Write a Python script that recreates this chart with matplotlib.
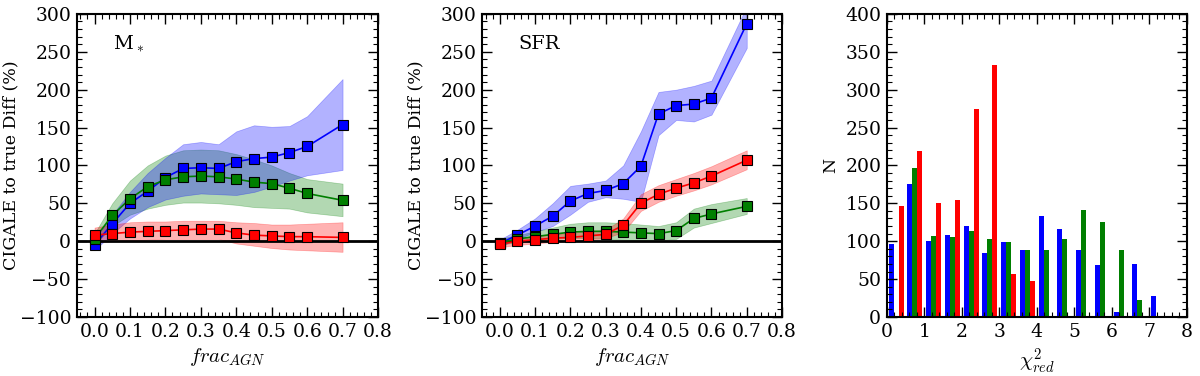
import numpy as np
import matplotlib
matplotlib.use("Agg")
import matplotlib.pyplot as plt
from matplotlib.ticker import MultipleLocator

plt.rcParams['font.family'] = ['DejaVu Serif']
plt.rcParams['mathtext.fontset'] = 'cm'

# ---------------- data ----------------
frac_agn = [0.0, 0.05, 0.1, 0.15, 0.2, 0.25, 0.3, 0.35, 0.4, 0.45, 0.5, 0.55, 0.6, 0.7]

# M* panel
mstar_blue = [-5, 23, 50, 66, 84, 96, 97, 96, 105, 109, 111, 117, 125, 154]
mstar_blue_lo = [-12, 10, 30, 45, 55, 60, 63, 62, 61, 65, 72, 80, 87, 94]
mstar_blue_hi = [2, 35, 65, 90, 110, 128, 131, 128, 145, 153, 151, 152, 165, 214]
mstar_green = [3, 34, 56, 72, 81, 85, 86, 85, 82, 78, 76, 70, 63, 54]
mstar_green_lo = [-5, 20, 35, 43, 48, 51, 51, 50, 48, 45, 44, 43, 38, 33]
mstar_green_hi = [10, 50, 80, 100, 113, 120, 121, 120, 115, 108, 100, 90, 82, 76]
mstar_red = [8, 10, 12, 13, 14, 15, 16, 16, 11, 8, 7, 6, 6, 5]
mstar_red_lo = [-2, 0, 1, 2, 3, 3, 3, 3, -3, -6, -9, -11, -12, -14]
mstar_red_hi = [18, 22, 25, 26, 26, 27, 27, 27, 25, 24, 22, 22, 23, 25]

# SFR panel
sfr_blue = [-3, 8, 20, 33, 53, 63, 67, 76, 99, 168, 179, 181, 189, 287]
sfr_blue_lo = [-7, 3, 12, 20, 35, 52, 58, 56, 52, 140, 160, 158, 167, 255]
sfr_blue_hi = [2, 15, 30, 50, 73, 76, 80, 100, 145, 197, 200, 205, 212, 310]
sfr_green = [-2, 3, 6, 9, 12, 13, 13, 12, 11, 10, 14, 30, 36, 46]
sfr_green_lo = [-5, -1, 1, 3, 4, 4, 3, 2, 1, 1, 3, 18, 24, 36]
sfr_green_hi = [3, 8, 13, 18, 23, 25, 25, 24, 22, 20, 25, 43, 49, 57]
sfr_red = [-4, 0, 2, 4, 5, 7, 9, 21, 50, 62, 70, 77, 86, 107]
sfr_red_lo = [-8, -5, -3, -1, 0, 2, 4, 12, 40, 52, 60, 67, 75, 95]
sfr_red_hi = [0, 4, 7, 9, 11, 13, 15, 30, 62, 74, 82, 90, 99, 120]

# chi2 histogram (counts per bin, bins of width 0.5 from 0 to 7.5)
chi2_edges = [0.0, 0.5, 1.0, 1.5, 2.0, 2.5, 3.0, 3.5, 4.0, 4.5, 5.0, 5.5, 6.0, 6.5, 7.0, 7.5]
hist_blue = [96, 176, 100, 108, 120, 84, 99, 89, 133, 116, 88, 68, 6, 70, 28]
hist_green = [0, 197, 107, 105, 113, 103, 99, 89, 88, 103, 141, 126, 88, 23, 0]
hist_red = [146, 219, 151, 154, 275, 333, 57, 47, 0, 0, 0, 0, 0, 0, 0]

BLUE = '#0000ff'
GREEN = '#007f00'
RED = '#ff0000'

fig = plt.figure(figsize=(12, 3.76), dpi=100)
ax1 = fig.add_axes([0.064, 0.157, 0.251, 0.806])
ax2 = fig.add_axes([0.4017, 0.157, 0.250, 0.806])
ax3 = fig.add_axes([0.739, 0.157, 0.250, 0.806])


def style(ax):
    for s in ax.spines.values():
        s.set_linewidth(1.5)
    ax.tick_params(which='both', direction='in', top=True, right=True, labelsize=13.5)
    ax.tick_params(which='major', length=7, width=1.0, pad=4)
    ax.tick_params(which='minor', length=3.5, width=0.8)


def line_panel(ax, blue, green, red, label, ylab_x):
    # bands: green first, then blue over it, then red
    for y, lo, hi, c in (green, blue, red):
        ax.fill_between(frac_agn, lo, hi, color=c, alpha=0.3, linewidth=0.5, edgecolor=c)
    for y, lo, hi, c in (blue, green, red):
        ax.plot(frac_agn, y, '-s', color=c, lw=1.2, ms=7.5, mec='k', mew=0.8, zorder=3)
    ax.axhline(0, color='k', lw=2, zorder=2)
    ax.set_xlim(-0.05, 0.8)
    ax.set_ylim(-100, 300)
    ax.xaxis.set_major_locator(MultipleLocator(0.1))
    ax.xaxis.set_minor_locator(MultipleLocator(0.02))
    ax.yaxis.set_major_locator(MultipleLocator(50))
    ax.yaxis.set_minor_locator(MultipleLocator(10))
    ax.set_xlabel(r'$frac_{AGN}$', fontsize=15)
    ax.set_ylabel('CIGALE to true Diff (%)', fontsize=12.5)
    ax.yaxis.set_label_coords(ylab_x, 0.5)
    ax.text(0.12, 0.90, label, transform=ax.transAxes, fontsize=14, va='center')
    style(ax)


line_panel(ax1,
           (mstar_blue, mstar_blue_lo, mstar_blue_hi, BLUE),
           (mstar_green, mstar_green_lo, mstar_green_hi, GREEN),
           (mstar_red, mstar_red_lo, mstar_red_hi, RED),
           r'M$_*$', -0.19)

line_panel(ax2,
           (sfr_blue, sfr_blue_lo, sfr_blue_hi, BLUE),
           (sfr_green, sfr_green_lo, sfr_green_hi, GREEN),
           (sfr_red, sfr_red_lo, sfr_red_hi, RED),
           'SFR', -0.193)

# histogram panel
edges = np.array(chi2_edges)
binw = np.diff(edges)
rwidth = 0.8
barw = binw * rwidth / 3
start = edges[:-1] + binw * (1 - rwidth) / 2
for i, (counts, c) in enumerate([(hist_blue, BLUE), (hist_green, GREEN), (hist_red, RED)]):
    ax3.bar(start + i * barw, counts, width=barw, align='edge', color=c, linewidth=0)
ax3.set_xlim(0, 8)
ax3.set_ylim(0, 400)
ax3.xaxis.set_major_locator(MultipleLocator(1))
ax3.xaxis.set_minor_locator(MultipleLocator(0.2))
ax3.yaxis.set_major_locator(MultipleLocator(50))
ax3.yaxis.set_minor_locator(MultipleLocator(10))
ax3.set_xlabel(r'$\chi^2_{red}$', fontsize=15)
ax3.set_ylabel('N', fontsize=12.5)
ax3.yaxis.set_label_coords(-0.157, 0.5)
style(ax3)

fig.savefig('out.png', dpi=100)
